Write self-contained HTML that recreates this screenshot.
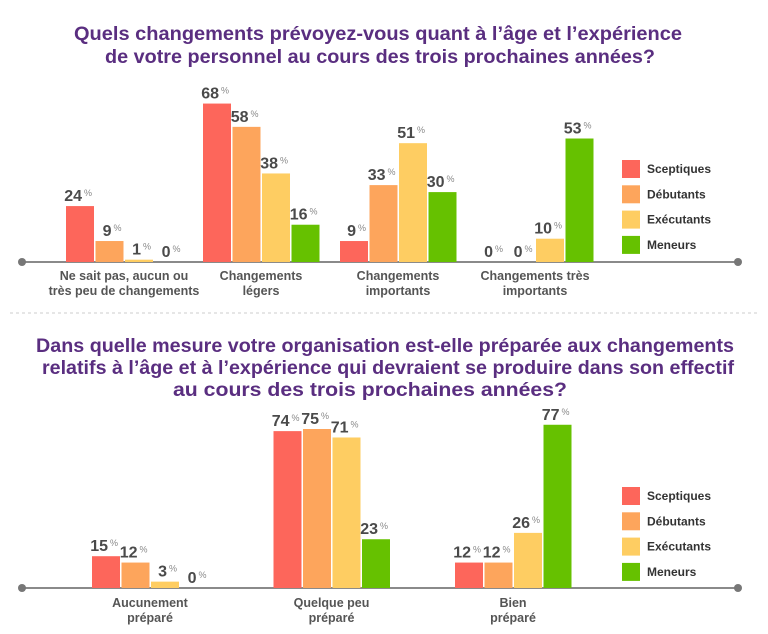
<!DOCTYPE html>
<html><head><meta charset="utf-8"><style>
body{margin:0;background:#fff;}
svg{display:block;font-family:"Liberation Sans",sans-serif;}
</style></head><body>
<svg id="c" width="768" height="634" viewBox="0 0 768 634">
<g font-weight="bold" fill="#5a2e80" font-size="19" text-anchor="middle">
<text x="378" y="40" textLength="608" lengthAdjust="spacingAndGlyphs">Quels changements prévoyez-vous quant à l’âge et l’expérience</text>
<text x="380" y="63" textLength="550" lengthAdjust="spacingAndGlyphs">de votre personnel au cours des trois prochaines années?</text>
</g>
<line x1="10" y1="313" x2="758" y2="313" stroke="#ccc" stroke-dasharray="3,3"/>
<g font-weight="bold" fill="#5a2e80" font-size="19" text-anchor="middle">
<text x="385" y="352" textLength="698" lengthAdjust="spacingAndGlyphs">Dans quelle mesure votre organisation est-elle préparée aux changements</text>
<text x="388" y="374" textLength="692" lengthAdjust="spacingAndGlyphs">relatifs à l’âge et à l’expérience qui devraient se produire dans son effectif</text>
<text x="370" y="396" textLength="394" lengthAdjust="spacingAndGlyphs">au cours des trois prochaines années?</text>
</g>
<g id="g1"></g><g id="g2"></g>
</svg>
<script>
const series = ["Sceptiques","Débutants","Exécutants","Meneurs"];
const colors = ["#fd665b","#fda55c","#fecd62","#66c100"];
const cats1 = [["Ne sait pas, aucun ou","très peu de changements"],["Changements","légers"],["Changements","importants"],["Changements très","importants"]];
const sceptiques1 = [24,68,9,0];
const debutants1 = [9,58,33,0];
const executants1 = [1,38,51,10];
const meneurs1 = [0,16,30,53];
const cats2 = [["Aucunement","préparé"],["Quelque peu","préparé"],["Bien","préparé"]];
const sceptiques2 = [15,74,12];
const debutants2 = [12,75,12];
const executants2 = [3,71,26];
const meneurs2 = [0,23,77];

const NS="http://www.w3.org/2000/svg";
function mk(tag,attrs,parent,txt){const e=document.createElementNS(NS,tag);for(const k in attrs)e.setAttribute(k,attrs[k]);if(txt!==undefined)e.textContent=txt;parent.appendChild(e);return e;}

function draw(gid,cats,vals,base,scale,g0,gStep,labY,legY){
  const g=document.getElementById(gid);
  const ax=mk('line',{x1:22,y1:base,x2:738,y2:base,stroke:'#8a8a8a','stroke-width':2},g);
  
  
  [22,738].forEach(x=>{const c=mk('circle',{cx:x,cy:base,r:4,fill:'#777'},g);
    
    });
  const yv=v=>base-v*scale;
  cats.forEach((cat,i)=>{
    const gx=g0+i*gStep;
    vals.forEach((arr,s)=>{
      const v=arr[i];const x=gx+s*29.5;
      const h=Math.max(v*scale,v>0?2:0);
      const r=mk('rect',{x:x,y:base-h,width:28,height:h,fill:colors[s]},g);
      
      
      const t=mk('text',{x:x+16,y:base-h-5,'text-anchor':'end','font-size':16,'font-weight':'bold',fill:'#4a4a4a'},g,String(v));
      
      
      const p=mk('text',{x:x+18,y:base-h-10,'font-size':9,fill:'#888'},g,'%');
      
      
    });
    const cx=gx+58;
    cat.forEach((ln,j)=>{const t=mk('text',{x:cx,y:labY+j*15,'text-anchor':'middle','font-size':12.5,'font-weight':'bold',fill:'#555'},g,ln);
      
      });
  });
  series.forEach((s,k)=>{
    const y=legY+k*25.3;
    const r=mk('rect',{x:622,y:y,width:18,height:18,fill:colors[k]},g);
    
    
    const t=mk('text',{x:647,y:y+13,'font-size':12,'font-weight':'bold',fill:'#333'},g,s);
    
    
  });
}
draw('g1',cats1,[sceptiques1,debutants1,executants1,meneurs1],262,2.33,66,137,280,160);
draw('g2',cats2,[sceptiques2,debutants2,executants2,meneurs2],588,2.12,92,181.5,607,487);
</script>
</body></html>
